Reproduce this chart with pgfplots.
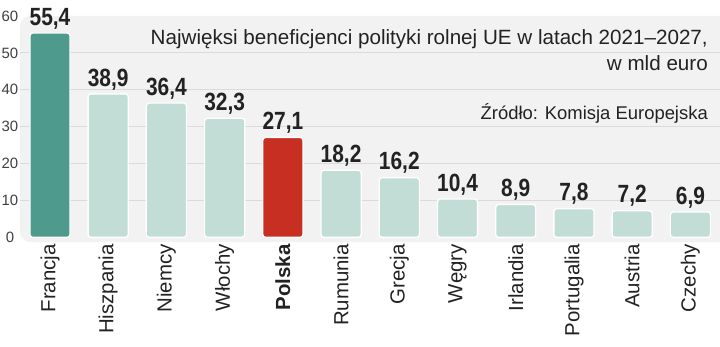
\documentclass[border=0pt]{standalone}
\usepackage{fontspec}
\setmainfont{Liberation Sans}
\newfontfamily\titlefont{Liberation Sans}
\newfontfamily\valfont[FakeStretch=0.84]{Liberation Sans}
\newfontfamily\catfont{Liberation Sans}
\usepackage{pgfplots}
\usepackage{pgfplotstable}
\pgfplotsset{compat=1.18}
\definecolor{teal1}{HTML}{4E9A8C}
\definecolor{light1}{HTML}{C2DDD5}
\definecolor{red1}{HTML}{C62F22}
\definecolor{panel}{HTML}{F2F2F2}
\definecolor{gridc}{HTML}{DADADA}
\definecolor{txt}{HTML}{222222}
\pgfplotstableread{
x y
0 55.4
}\tfr
\pgfplotstableread{
x y
4 27.1
}\tpl
\pgfplotstableread{
x y
1 38.9
2 36.4
3 32.3
5 18.2
6 16.2
7 10.4
8 8.9
9 7.8
10 7.2
11 6.9
}\toth
\begin{document}
\begin{tikzpicture}
\useasboundingbox (0,0) rectangle (720bp,347bp);
\begin{axis}[
  at={(20bp,105bp)}, anchor=south west,
  scale only axis, width=710bp, height=226bp,
  xmin=-0.515, xmax=11.68, ymin=-1.25, ymax=60,
  clip=false,
  axis background/.style={fill=panel, rounded corners=10bp},
  axis line style={draw=none},
  major tick length=0pt,
  ytick={10,20,...,50}, extra y ticks={0,60},
  extra y tick style={grid=none},
  ymajorgrids, grid style={draw=gridc, line width=0.9pt},
  /pgf/number format/assume math mode=true,
  yticklabel style={font=\fontsize{15}{15}\selectfont, text=black!75, anchor=center, xshift=-10bp},
  xtick={0,...,11},
  xticklabels={Francja,Hiszpania,Niemcy,Włochy,\textbf{Polska},Rumunia,Grecja,Węgry,Irlandia,Portugalia,Austria,Czechy},
  xticklabel style={rotate=90, anchor=east, font=\catfont\fontsize{20.5}{20.5}\selectfont, text=txt, inner sep=2bp},
  ybar, bar width=0.69, bar shift=0pt,
  every axis plot/.append style={draw=white, line width=1.3pt, rounded corners=3bp},
  point meta=y,
  nodes near coords={\pgfmathprintnumber[fixed,fixed zerofill,precision=1,use comma]{\pgfplotspointmeta}},
  nodes near coords style={font=\valfont\bfseries\fontsize{25}{25}\selectfont, text=txt, anchor=south},
]
\addplot[fill=teal1] table[x=x,y=y]{\tfr};
\addplot[fill=red1] table[x=x,y=y]{\tpl};
\addplot[fill=light1] table[x=x,y=y]{\toth};
\end{axis}
\node[anchor=base east, font=\titlefont\fontsize{20.7}{20.7}\selectfont, text=txt, inner sep=0pt] at (708bp,302bp) {Najwięksi beneficjenci polityki rolnej UE w latach 2021–2027,};
\node[anchor=base east, font=\titlefont\fontsize{20.7}{20.7}\selectfont, text=txt, inner sep=0pt] at (708bp,276bp) {w mld euro};
\node[anchor=base east, font=\titlefont\fontsize{18.5}{18.5}\selectfont, text=txt, inner sep=0pt] at (708bp,227bp) {Źródło: Komisja Europejska};
\end{tikzpicture}
\end{document}
